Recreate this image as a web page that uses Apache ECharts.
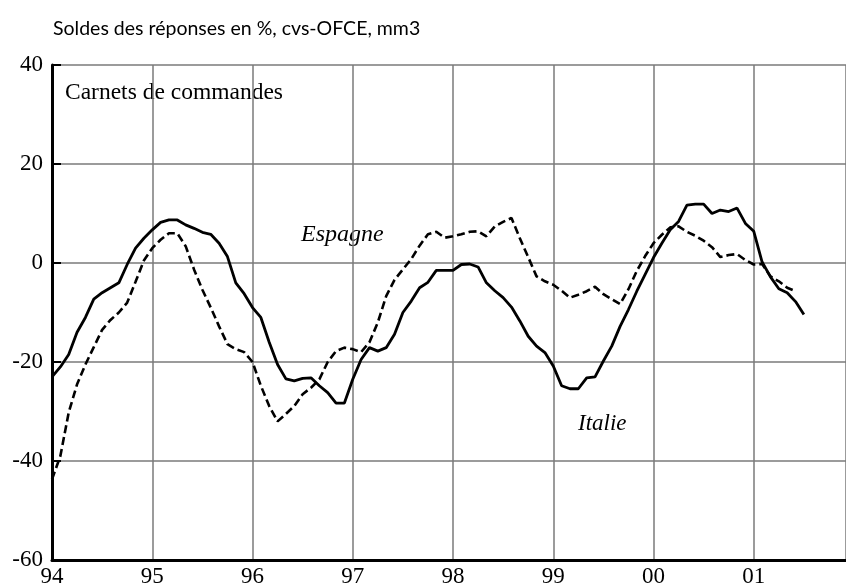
<!DOCTYPE html>
<html>
<head>
<meta charset="utf-8">
<script src="https://cdn.jsdelivr.net/npm/echarts@6/dist/echarts.min.js"></script>
<style>
html,body{margin:0;padding:0;background:#fff;}
#chart{width:846px;height:588px;}
</style>
</head>
<body>
<div id="chart"></div>
<script>
// Monthly data, January 1994 to July 2001
var startYear = 1994;
var yearTicks = [1994, 1995, 1996, 1997, 1998, 1999, 2000, 2001];
var yTicks = [-60, -40, -20, 0, 20, 40];

var italie = [
  -23, -21, -18.5, -14, -11, -7.3, -6, -5, -4, -0.3, 3, 5,
  6.7, 8.2, 8.7, 8.7, 7.7, 7, 6.2, 5.8, 4, 1.3, -4, -6.2,
  -9, -11, -16, -20.5, -23.4, -23.8, -23.3, -23.2, -24.8, -26.2, -28.3, -28.3,
  -23.5, -19.5, -17.1, -17.8, -17.1, -14.4, -10, -7.7, -5, -3.9, -1.5, -1.5,
  -1.5, -0.3, -0.2, -0.8, -4, -5.6, -7, -8.9, -11.7, -14.8, -16.8, -18.1,
  -20.8, -24.8, -25.4, -25.4, -23.2, -23, -19.8, -16.8, -12.8, -9.4, -5.7, -2.3,
  1.1, 4, 6.7, 8.4, 11.7, 11.9, 11.9, 10, 10.7, 10.4, 11.1, 8,
  6.4, 0.2, -2.8, -5.2, -6, -7.8, -10.4
];

var espagne = [
  -43.7, -39, -30.2, -24.5, -20.5, -17, -13.5, -11.5, -10, -8, -3.8, 0.5,
  3, 4.7, 6, 6, 3.4, -1.3, -5.4, -9, -12.8, -16.4, -17.4, -18,
  -20, -24.8, -28.9, -32, -30.5, -28.9, -26.5, -25.2, -23.5, -20, -17.8, -17.1,
  -17.4, -18, -16, -12, -6.7, -3.4, -1.3, 0.8, 3.5, 5.8, 6.3, 5.1,
  5.4, 5.8, 6.3, 6.4, 5.4, 7.4, 8.3, 9.1, 5, 1.2, -2.7, -3.7,
  -4.4, -5.6, -7, -6.4, -5.7, -4.8, -6.3, -7.3, -8.3, -5.3, -1.6, 1.4,
  4, 5.7, 7.2, 7.4, 6.3, 5.5, 4.5, 3.2, 1.2, 1.6, 1.8, 0.6,
  -0.3, -0.2, -2.7, -3.7, -5, -5.7
];

function toPairs(arr) {
  return arr.map(function (v, i) { return [startYear + i / 12, v]; });
}

var chart = echarts.init(document.getElementById('chart'), null, {renderer: 'canvas'});
var serif = '"Liberation Serif", "Times New Roman", serif';

chart.setOption({
  animation: false,
  backgroundColor: '#ffffff',
  grid: {left: 52, top: 65, right: 0, bottom: 28, containLabel: false},
  xAxis: {
    type: 'value',
    min: yearTicks[0],
    max: 2001.92,
    interval: 1,
    axisLine: {show: true, onZero: false, lineStyle: {color: '#000', width: 3}},
    axisTick: {show: false},
    splitLine: {show: true, lineStyle: {color: '#7a7a7a', width: 1.5}},
    axisLabel: {
      color: '#000', fontFamily: serif, fontSize: 23, margin: 5,
      showMaxLabel: false,
      formatter: function (v) {
        var y = Math.round(v);
        if (yearTicks.indexOf(y) < 0 || Math.abs(v - y) > 1e-6) return '';
        return String(y % 100).padStart(2, '0');
      }
    }
  },
  yAxis: {
    type: 'value',
    min: yTicks[0],
    max: yTicks[yTicks.length - 1],
    interval: 20,
    axisLine: {show: true, onZero: false, lineStyle: {color: '#000', width: 3}},
    axisTick: {show: true, inside: true, length: 9, lineStyle: {color: '#000', width: 2}},
    splitLine: {show: true, lineStyle: {color: '#7a7a7a', width: 1.5}},
    axisLabel: {color: '#000', fontFamily: serif, fontSize: 23, margin: 9,
      padding: [7, 0, 0, 0]}
  },
  series: [
    {
      name: 'Espagne',
      type: 'line',
      data: toPairs(espagne),
      showSymbol: false,
      lineStyle: {color: '#000', width: 2.6, type: [8, 4]},
      z: 3
    },
    {
      name: 'Italie',
      type: 'line',
      data: toPairs(italie),
      showSymbol: false,
      lineStyle: {color: '#000', width: 2.8, type: 'solid'},
      z: 4
    }
  ],
  graphic: [
    {type: 'text', left: 53, top: 19,
      style: {text: 'Soldes des réponses en %, cvs-OFCE, mm3', fill: '#000',
        font: '19.5px Lato, "Open Sans", sans-serif'}},
    {type: 'text', left: 65, top: 81,
      style: {text: 'Carnets de commandes', fill: '#000',
        font: '23.5px ' + serif}},
    {type: 'text', left: 301, top: 223,
      style: {text: 'Espagne', fill: '#000',
        font: 'italic 24px ' + serif}},
    {type: 'text', left: 578, top: 412,
      style: {text: 'Italie', fill: '#000',
        font: 'italic 23px ' + serif}}
  ]
});
</script>
</body>
</html>
